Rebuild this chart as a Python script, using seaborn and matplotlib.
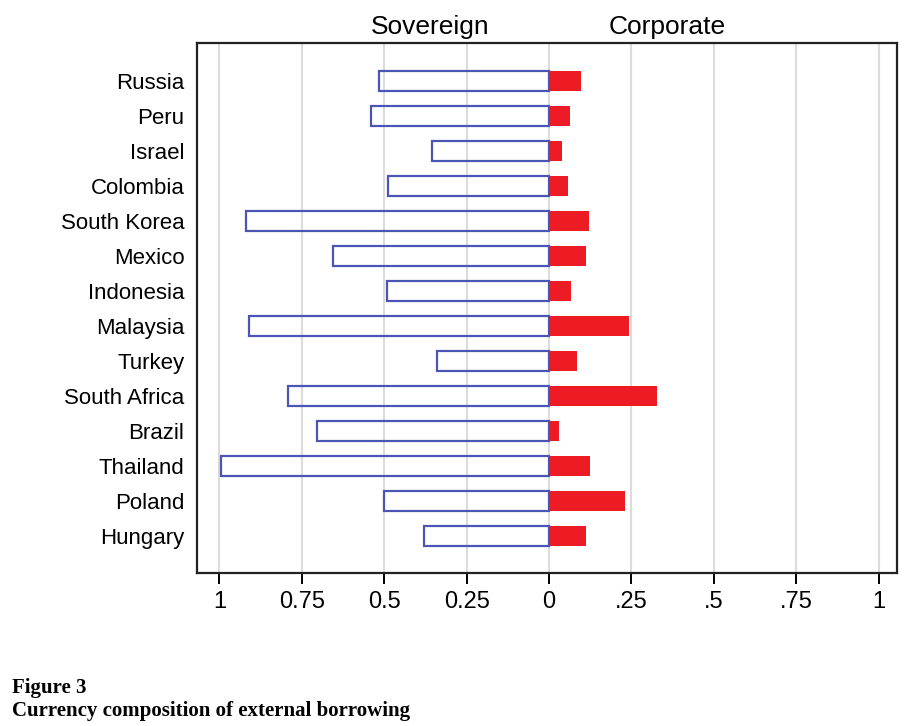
import matplotlib
matplotlib.use("Agg")
import matplotlib.pyplot as plt
import seaborn as sns
import pandas as pd

countries = ["Russia", "Peru", "Israel", "Colombia", "South Korea", "Mexico", "Indonesia",
             "Malaysia", "Turkey", "South Africa", "Brazil", "Thailand", "Poland", "Hungary"]
sovereign = [0.517, 0.541, 0.354, 0.489, 0.920, 0.656, 0.493,
             0.910, 0.340, 0.793, 0.705, 0.994, 0.502, 0.379]
corporate = [0.096, 0.064, 0.041, 0.057, 0.120, 0.112, 0.068,
             0.243, 0.084, 0.327, 0.030, 0.123, 0.231, 0.111]
tick_values = [-1, -0.75, -0.5, -0.25, 0, 0.25, 0.5, 0.75, 1]
tick_labels = ["1", "0.75", "0.5", "0.25", "0", ".25", ".5", ".75", "1"]

df = pd.DataFrame({"country": countries,
                   "sovereign": [-v for v in sovereign],
                   "corporate": corporate})

sns.set_style("white")
plt.rcParams["font.family"] = ["Liberation Sans", "DejaVu Sans"]
plt.rcParams["text.color"] = "black"
plt.rcParams["xtick.color"] = "black"
plt.rcParams["ytick.color"] = "black"

fig = plt.figure(figsize=(9.16, 7.26), dpi=100)
ax = fig.add_axes([197 / 916, 1 - 573 / 726, 700 / 916, 530 / 726])

# light vertical grid at each tick
for v in tick_values:
    ax.axvline(v, color="#dcdcdc", linewidth=1.5, zorder=0)

sns.barplot(data=df, x="sovereign", y="country", orient="h", ax=ax,
            fill=False, color="#4a55b5", linewidth=1.6, width=0.57, zorder=3)
sns.barplot(data=df, x="corporate", y="country", orient="h", ax=ax,
            color="#ed1c24", saturation=1, linewidth=0, width=0.57, zorder=3)

ax.set_xlim(-1.068, 1.056)
ax.set_ylim(len(countries) - 1 + 1.07, -1.09)
ax.set_xticks(tick_values)
ax.set_xticklabels(tick_labels, fontsize=17)
ax.tick_params(axis="x", bottom=True, direction="out", length=8, width=1.4,
               color="black", labelcolor="black", pad=5)
ax.tick_params(axis="y", left=False, length=0, labelsize=16, labelcolor="black", pad=9)
ax.set_xlabel("")
ax.set_ylabel("")
for s in ax.spines.values():
    s.set_visible(True)
    s.set_color("#222222")
    s.set_linewidth(1.6)

ax.text(-0.36, 1.008, "Sovereign", transform=ax.get_xaxis_transform(),
        ha="center", va="bottom", fontsize=19)
ax.text(0.36, 1.008, "Corporate", transform=ax.get_xaxis_transform(),
        ha="center", va="bottom", fontsize=19)

fig.text(12 / 916, 1 - 688 / 726, "Figure 3", family="Liberation Serif",
         fontweight="bold", fontsize=15, ha="left", va="center")
fig.text(12 / 916, 1 - 711 / 726, "Currency composition of external borrowing",
         family="Liberation Serif", fontweight="bold", fontsize=15, ha="left", va="center")

fig.savefig("out.png", dpi=100)
